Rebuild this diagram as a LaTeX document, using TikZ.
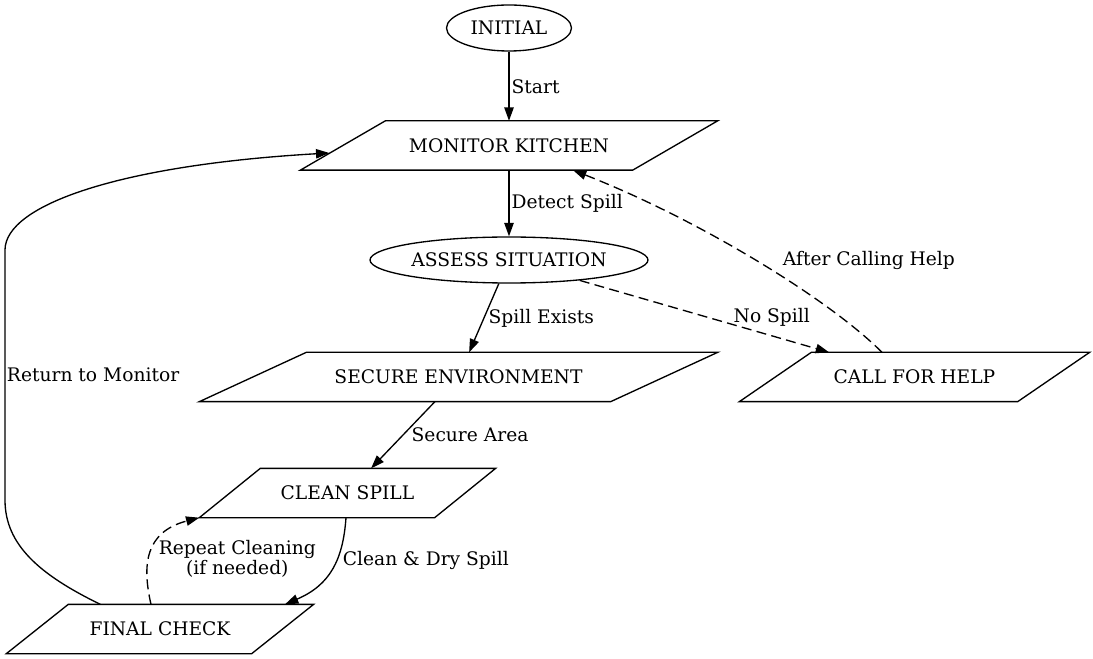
\documentclass[tikz,border=0pt]{standalone}
\usepackage{fontspec}
\setmainfont{DejaVu Serif}
\usepackage{tikz}
\usetikzlibrary{positioning, calc, shapes.geometric, arrows.meta}

\begin{document}
\begin{tikzpicture}[x=0.75pt, y=-0.75pt, ->, >={Triangle[length=10pt,width=7pt]}, line width=1pt,
  every node/.style={font=\fontsize{14}{15}\selectfont},
  state/.style={draw, ellipse, inner sep=0pt, minimum height=34.5pt},
  iobox/.style={inner sep=0pt, minimum height=36pt},
  lbl/.style={inner sep=0pt},
  retry/.style={dash pattern=on 7.5pt off 4pt}]
  \useasboundingbox (0,0) rectangle (1093,659);
  \node[state, minimum width=93.75pt] (initial) at (509,28) {INITIAL};
  \node[iobox, minimum width=312pt] (monitor) at (509,145.5) {MONITOR KITCHEN};
  \node[state, minimum width=208.5pt] (assess) at (509,260) {ASSESS SITUATION};
  \node[iobox, minimum width=387.75pt] (secure) at (458.5,377) {SECURE ENVIRONMENT};
  \node[iobox, minimum width=261.75pt] (help) at (914.5,377) {CALL FOR HELP};
  \node[iobox, minimum width=221.25pt] (clean) at (347.5,493) {CLEAN SPILL};
  \node[iobox, minimum width=229.5pt] (final) at (160,629) {FINAL CHECK};
  \foreach \n/\s in {monitor/85, secure/107, help/72, clean/61, final/62}
    \draw[-] ($(\n.north west)+(\s,0)$) -- (\n.north east) -- ($(\n.south east)-(\s,0)$) -- (\n.south west) -- cycle;
  \path
    (initial) edge node[lbl, right=1.5pt] (lstart) {Start} (monitor)
    (monitor) edge node[lbl, right=1.5pt] (ldetect) {Detect Spill} (assess)
    (assess) edge node[lbl, right=3pt] (lexists) {Spill Exists} (secure)
    (assess) edge[retry] node[lbl, pos=0.77, yshift=14pt] (lnospill) {No Spill} (help)
    (secure) edge node[lbl, right=6pt] (lsecure) {Secure Area} (clean);
  \draw[retry] ($(help.north)+(-32.5,0)$) .. controls (830,300) and (700,220) .. node[lbl, right=20pt] (lafter) {After Calling Help} ($(monitor.south)+(64,0)$);
  \draw ($(clean.south)+(-1.5,0)$) .. controls (343,560) and (330,585) .. node[lbl, pos=0.4, right=4.5pt] (lcleandry) {Clean \& Dry Spill} ($(final.north)+(125,0)$);
  \draw[retry] ($(final.north)+(-9,0)$) .. controls (142,565) and (145,532) .. node[lbl, align=center, right=5pt, yshift=-5.25pt] (lrepeat) {Repeat Cleaning\\(if needed)} (clean.south west);
  \draw ($(final.north west)+(94,0)$) .. controls (40,575) and (5,545) .. (5,500) -- node[lbl, right=1pt] (lreturn) {Return to Monitor} (5,250) .. controls (5,205) and (120,165) .. ($(monitor.west)+(29,7.5)$);
\end{tikzpicture}
\end{document}
